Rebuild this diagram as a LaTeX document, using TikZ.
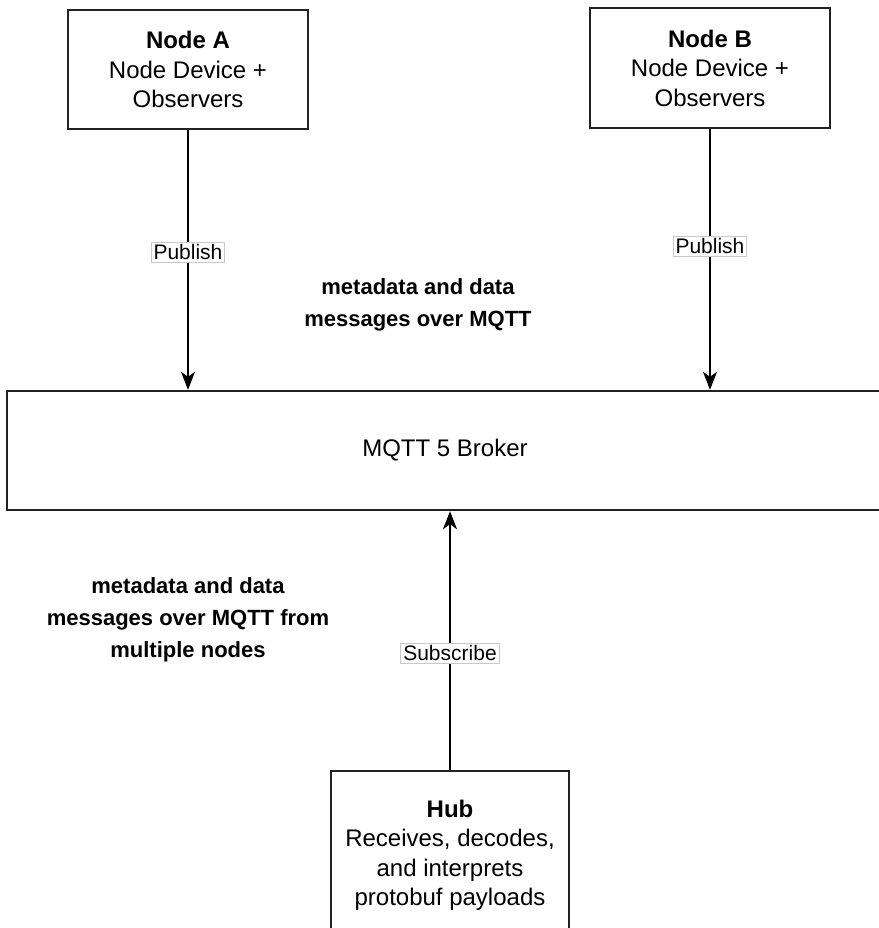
\documentclass[tikz,border=0pt]{standalone}
\usepackage{fontspec}
\setmainfont{Liberation Sans}
\usepackage{tikz}
\usetikzlibrary{arrows.meta, positioning}
\usepackage{xcolor}
\definecolor{boxline}{HTML}{222222}
\definecolor{lblline}{HTML}{C8C8C8}
\tikzset{%
	every block/.style={
		rectangle,
		draw=boxline,
		line width=1.2pt,
		align=center,
		font=\fontsize{12}{14.75}\selectfont,
		inner sep=0pt
	},
	flow arrow/.style={
		-{Stealth[length=9pt, width=7pt, inset=2.5pt]},
		line width=0.9pt
	},
	edge label/.style={
		draw=lblline,
		line width=0.5pt,
		fill=white,
		inner sep=1.2pt,
		font=\fontsize{10.5}{12}\selectfont
	},
	side note/.style={
		align=center,
		font=\fontsize{11}{16}\selectfont\bfseries
	},
}

\begin{document}
\begin{tikzpicture}[x=0.5pt, y=-0.5pt]
			\useasboundingbox (0,0) rectangle (879,928);
			
			% Draw the two publishing nodes
			\node[every block, minimum width=120pt, minimum height=59.5pt] (nodeA) at (188,69.5)
				{\textbf{Node A}\\Node Device +\\Observers};
			\node[every block, minimum width=120pt, minimum height=60pt] (nodeB) at (710,68)
				{\textbf{Node B}\\Node Device +\\Observers};
			
			% Draw the broker
			\node[every block, minimum width=438pt, minimum height=59.5pt] (broker) at (445,450.5)
				{MQTT 5 Broker};
			
			% Draw the hub
			\node[every block, minimum width=119pt, minimum height=82pt, text depth=0pt] (hub) at (450,853)
				{\textbf{Hub}\\Receives, decodes,\\and interprets\\protobuf payloads};
			
			% Draw the arrows
			\draw[flow arrow] (nodeA) -- node[edge label, pos=0.47] (pubA) {Publish} (nodeA |- broker.north);
			\draw[flow arrow] (nodeB) -- node[edge label, pos=0.45] (pubB) {Publish} (nodeB |- broker.north);
			\draw[flow arrow] (hub.north) -- node[edge label, pos=0.45] (sub) {Subscribe} (hub.north |- broker.south);
			
			% Notes
			\node[side note] (noteTop) at (418,304.5) {metadata and data\\messages over MQTT};
			\node[side note] (noteLeft) at (188,620) {metadata and data\\messages over MQTT from\\multiple nodes};
			
		\end{tikzpicture}
\end{document}
